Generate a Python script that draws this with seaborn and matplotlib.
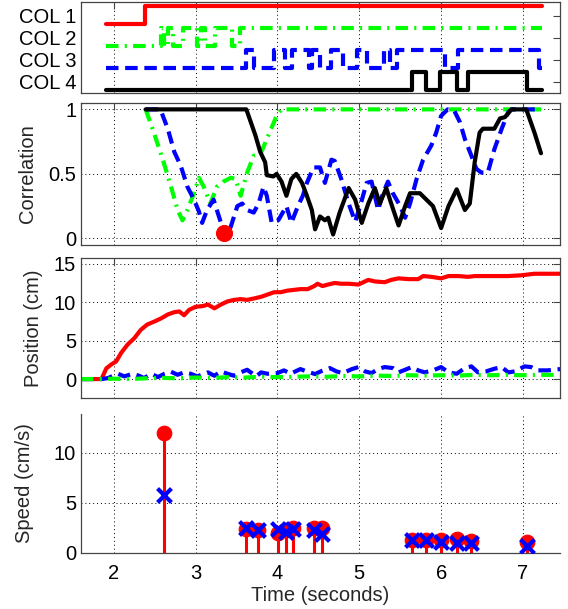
import numpy as np
import matplotlib
matplotlib.use("Agg")
import matplotlib.pyplot as plt
import seaborn as sns

# ---- channel states (top panel) ----
col_labels = ["COL 1", "COL 2", "COL 3", "COL 4"]
col1_t = [1.90, 2.38, 7.23]
col1_s = [0, 1, 1]
col2_t = [1.90, 2.58, 2.62, 2.66, 2.72, 2.85, 3.02, 3.07, 3.12, 3.24, 3.44, 3.54, 7.23]
col2_s = [0, 1, 0, 1, 0, 1, 0, 1, 0, 1, 0, 1, 1]
col3_t = [1.90, 3.62, 3.71, 3.96, 4.09, 4.18, 4.38, 4.42, 4.52, 4.66, 4.80, 4.97,
          5.10, 5.30, 5.38, 5.46, 6.05, 6.20, 7.20, 7.23]
col3_s = [0, 1, 0, 1, 0, 1, 0, 1, 0, 1, 0, 1, 0, 1, 0, 1, 0, 1, 0, 0]
col4_t = [1.90, 5.64, 5.81, 5.99, 6.19, 6.33, 7.05, 7.23]
col4_s = [0, 1, 0, 1, 0, 1, 0, 0]

# ---- correlation ----
corr_black_t = [2.39, 3.62, 3.73, 3.79, 3.85, 3.87, 3.95, 3.99, 4.05, 4.11,
                4.17, 4.23, 4.30, 4.36, 4.42, 4.46, 4.52, 4.58, 4.62, 4.68,
                4.76, 4.87, 4.95, 5.03, 5.11, 5.19, 5.25, 5.33, 5.39, 5.48,
                5.56, 5.62, 5.74, 5.82, 5.90, 6.00, 6.09, 6.19, 6.29, 6.35,
                6.41, 6.47, 6.51, 6.65, 6.72, 6.78, 6.86, 7.04, 7.14, 7.22]
corr_black = [1.0, 1.0, 0.80, 0.67, 0.59, 0.49, 0.48, 0.50, 0.44, 0.33,
              0.46, 0.50, 0.43, 0.33, 0.22, 0.07, 0.17, 0.14, 0.16, 0.03,
              0.20, 0.39, 0.30, 0.12, 0.27, 0.39, 0.27, 0.39, 0.27, 0.10,
              0.25, 0.35, 0.35, 0.30, 0.25, 0.08, 0.25, 0.38, 0.22, 0.27,
              0.59, 0.82, 0.85, 0.85, 0.93, 0.94, 1.0, 1.0, 0.82, 0.66]
corr_green_t = [2.39, 2.49, 2.60, 2.70, 2.78, 2.84, 2.90, 2.98, 3.04, 3.10, 3.18, 3.26,
                3.34, 3.43, 3.49, 3.55, 3.63, 3.71, 3.79, 3.89, 3.99, 4.05, 7.22]
corr_green = [1.0, 0.82, 0.61, 0.40, 0.22, 0.14, 0.22, 0.35, 0.47, 0.40, 0.27, 0.40,
              0.44, 0.47, 0.46, 0.33, 0.51, 0.64, 0.65, 0.80, 0.95, 1.0, 1.0]
corr_blue_t = [2.39, 2.57, 2.66, 2.74, 2.82, 2.90, 2.98, 3.04, 3.08, 3.14,
               3.22, 3.30, 3.36, 3.43, 3.51, 3.57, 3.63, 3.71, 3.77, 3.83,
               3.87, 3.93, 4.01, 4.11, 4.17, 4.25, 4.31, 4.36, 4.44, 4.52,
               4.58, 4.66, 4.70, 4.78, 4.87, 4.95, 5.01, 5.09, 5.15, 5.23,
               5.29, 5.35, 5.41, 5.50, 5.56, 5.62, 5.70, 5.78, 5.88, 5.94,
               6.00, 6.08, 6.16, 6.23, 6.29, 6.37, 6.43, 6.49, 6.57, 6.65,
               6.74, 6.82, 6.86, 7.22]
corr_blue = [1.0, 1.0, 0.85, 0.67, 0.56, 0.40, 0.30, 0.21, 0.12, 0.22,
             0.30, 0.14, 0.01, 0.09, 0.25, 0.27, 0.22, 0.20, 0.27, 0.40,
             0.33, 0.12, 0.14, 0.25, 0.12, 0.25, 0.33, 0.43, 0.55, 0.55,
             0.43, 0.61, 0.60, 0.46, 0.27, 0.13, 0.25, 0.43, 0.44, 0.22,
             0.35, 0.44, 0.35, 0.25, 0.16, 0.27, 0.46, 0.61, 0.72, 0.82,
             0.95, 1.0, 0.99, 0.90, 0.77, 0.64, 0.54, 0.51, 0.51, 0.69,
             0.85, 0.98, 1.0, 1.0]
corr_min_t = [3.35]
corr_min = [0.04]

# ---- position ----
pos_red_t = [1.60, 1.85, 1.91, 1.97, 2.03, 2.09, 2.17, 2.25, 2.33, 2.41,
             2.50, 2.58, 2.66, 2.74, 2.80, 2.86, 2.92, 3.00, 3.09, 3.15,
             3.23, 3.31, 3.39, 3.47, 3.55, 3.63, 3.72, 3.80, 3.88, 3.96,
             4.04, 4.12, 4.20, 4.28, 4.37, 4.45, 4.49, 4.55, 4.62, 4.70,
             4.78, 4.87, 4.99, 5.05, 5.11, 5.19, 5.31, 5.39, 5.48, 5.60,
             5.72, 5.78, 5.88, 6.00, 6.09, 6.21, 6.33, 6.41, 6.53, 6.65,
             6.82, 6.98, 7.14, 7.30, 7.46]
pos_red = [0, 0, 1.4, 1.9, 2.3, 3.4, 4.5, 5.3, 6.4, 7.1,
           7.5, 7.9, 8.4, 8.7, 8.8, 8.3, 9.0, 9.4, 9.5, 9.7,
           9.2, 9.7, 10.1, 10.3, 10.4, 10.3, 10.5, 10.7, 11.0, 11.3,
           11.3, 11.5, 11.6, 11.7, 11.7, 12.1, 12.4, 12.1, 12.3, 12.5,
           12.4, 12.4, 12.3, 12.6, 12.9, 12.7, 12.6, 12.9, 13.1, 13.0,
           13.0, 13.4, 13.3, 13.1, 13.4, 13.4, 13.3, 13.4, 13.4, 13.4,
           13.4, 13.5, 13.7, 13.7, 13.7]
pos_blue_t = [1.60, 1.85, 1.93, 2.05, 2.13, 2.23, 2.31, 2.37, 2.46, 2.54,
              2.62, 2.70, 2.78, 2.86, 2.94, 3.02, 3.15, 3.23, 3.31, 3.39,
              3.47, 3.55, 3.63, 3.74, 3.80, 3.88, 4.00, 4.08, 4.16, 4.28,
              4.37, 4.46, 4.54, 4.64, 4.72, 4.80, 4.91, 4.99, 5.07, 5.15,
              5.23, 5.31, 5.41, 5.48, 5.56, 5.64, 5.72, 5.80, 5.92, 6.00,
              6.09, 6.19, 6.29, 6.37, 6.45, 6.55, 6.65, 6.74, 6.82, 6.90,
              7.02, 7.10, 7.18, 7.30, 7.46]
pos_blue = [0, 0, 0.13, 0.69, 0.35, 0.69, 0.43, 0.13, 0.69, 0.26,
            0.69, 0.95, 0.56, 0.87, 0.69, 0.35, 0.87, 0.43, 1.00, 0.69,
            0.43, 0.87, 1.21, 0.35, 0.87, 0.69, 0.78, 1.13, 0.69, 1.30,
            0.95, 0.65, 1.05, 1.43, 1.00, 0.78, 1.30, 1.56, 1.00, 0.78,
            1.30, 1.56, 1.43, 0.87, 1.21, 1.56, 1.13, 0.87, 1.21, 1.56,
            0.87, 0.69, 1.43, 1.65, 0.87, 1.00, 1.34, 1.56, 0.87, 1.00,
            1.65, 1.56, 1.13, 1.13, 1.30]
pos_green_t = [1.60, 1.85, 2.0, 2.2, 2.4, 2.6, 2.8, 3.0, 3.2, 3.4, 3.6, 3.8, 4.0, 4.2, 4.4,
               4.6, 4.8, 5.0, 5.2, 5.4, 5.6, 5.8, 6.0, 6.2, 6.4, 6.6, 6.8, 7.0, 7.2, 7.46]
pos_green = [0, 0, 0.05, 0.0, 0.1, 0.15, 0.1, 0.2, 0.15, 0.25, 0.2, 0.3, 0.25, 0.3, 0.35,
             0.3, 0.4, 0.35, 0.45, 0.4, 0.5, 0.45, 0.5, 0.45, 0.55, 0.5, 0.55, 0.5, 0.55, 0.55]

# ---- speed ----
speed_t = [2.61, 3.61, 3.76, 4.01, 4.11, 4.19, 4.45, 4.54, 5.64, 5.81, 6.00, 6.19, 6.36, 7.05]
speed_red = [12.0, 2.4, 2.3, 2.0, 2.3, 2.5, 2.5, 2.5, 1.3, 1.3, 1.3, 1.4, 1.2, 1.1]
speed_blue = [5.8, 2.45, 2.3, 2.4, 2.1, 2.35, 2.25, 1.85, 1.3, 1.3, 1.1, 1.0, 0.95, 0.65]

RED, GREEN, BLUE, BLACK = "#ff0000", "#00ff00", "#0000ff", "#000000"
DASH = (0, (3, 1.6))
DASHDOT = (0, (3, 1.5, 0.5, 1.5))
LW = 3

sns.set_style("white")
plt.rcParams["font.family"] = ["Liberation Sans", "DejaVu Sans"]
plt.rcParams["font.size"] = 14.5

fig = plt.figure(figsize=(5.68, 6.09), dpi=100)
L, W = 0.1426, 0.843
ax1 = fig.add_axes([L, 0.848, W, 0.148])
ax2 = fig.add_axes([L, 0.598, W, 0.233])
ax3 = fig.add_axes([L, 0.346, W, 0.231])
ax4 = fig.add_axes([L, 0.092, W, 0.229])

XLIM = (1.6, 7.45)
grid_kw = dict(color="k", linestyle=(0, (1, 3)), linewidth=0.7)

# top panel: binary channels
chans = [(col1_t, col1_s, RED, "-"), (col2_t, col2_s, GREEN, DASHDOT),
         (col3_t, col3_s, BLUE, DASH), (col4_t, col4_s, BLACK, "-")]
for k, (t, s, c, ls) in enumerate(chans, start=1):
    y = [k + 0.4 - 0.85 * v for v in s]
    sns.lineplot(x=t, y=y, ax=ax1, color=c, linewidth=LW, linestyle=ls,
                 drawstyle="steps-post", sort=False, estimator=None)
ax1.set_ylim(4.5, 0.4)
ax1.set_yticks([1, 2, 3, 4])
ax1.set_yticklabels(col_labels)
ax1.xaxis.grid(True, **grid_kw)

# correlation
sns.lineplot(x=corr_green_t, y=corr_green, ax=ax2, color=GREEN, linewidth=LW,
             linestyle=DASHDOT, sort=False, estimator=None)
sns.lineplot(x=corr_blue_t, y=corr_blue, ax=ax2, color=BLUE, linewidth=LW,
             linestyle=DASH, sort=False, estimator=None)
sns.lineplot(x=corr_black_t, y=corr_black, ax=ax2, color=BLACK, linewidth=LW,
             sort=False, estimator=None)
sns.scatterplot(x=corr_min_t, y=corr_min, ax=ax2, color=RED, s=130,
                edgecolor=RED, zorder=5)
ax2.set_ylim(-0.05, 1.05)
ax2.set_yticks([0, 0.5, 1])
ax2.set_yticklabels(["0", "0.5", "1"])
ax2.set_ylabel("Correlation", labelpad=8)
ax2.grid(True, **grid_kw)

# position
sns.lineplot(x=pos_red_t, y=pos_red, ax=ax3, color=RED, linewidth=LW,
             sort=False, estimator=None)
sns.lineplot(x=pos_blue_t, y=pos_blue, ax=ax3, color=BLUE, linewidth=LW,
             linestyle=DASH, sort=False, estimator=None)
sns.lineplot(x=pos_green_t, y=pos_green, ax=ax3, color=GREEN, linewidth=LW,
             linestyle=DASHDOT, sort=False, estimator=None)
ax3.set_ylim(-2.5, 15.8)
ax3.set_yticks([0, 5, 10, 15])
ax3.set_ylabel("Position (cm)", labelpad=8)
ax3.grid(True, **grid_kw)

# speed
ax4.vlines(speed_t, 0, speed_red, color=RED, linewidth=2.2)
sns.scatterplot(x=speed_t, y=speed_red, ax=ax4, color=RED, s=110,
                edgecolor=RED, zorder=4)
sns.scatterplot(x=speed_t, y=speed_blue, ax=ax4, color=BLUE, marker="x",
                s=100, linewidth=3, zorder=5)
ax4.set_ylim(0, 13.9)
ax4.set_yticks([0, 5, 10])
ax4.set_ylabel("Speed (cm/s)", labelpad=14)
ax4.set_xlabel("Time (seconds)", labelpad=2)
ax4.grid(True, **grid_kw)
ax4.spines["top"].set_visible(False)
ax4.spines["right"].set_visible(False)

for ax in (ax1, ax2, ax3, ax4):
    ax.set_xlim(*XLIM)
    ax.set_xticks([2, 3, 4, 5, 6, 7])
    for sp in ax.spines.values():
        sp.set_color("#444444")
        sp.set_linewidth(0.9)
    boxed = ax is not ax4
    ax.tick_params(direction="in", length=5, width=0.8, colors="#444444",
                   labelcolor="k", top=boxed, right=boxed, labelsize=14.5)
    ax.tick_params(axis="x", pad=8)
    if ax is not ax4:
        ax.set_xticklabels([])
        ax.set_xlabel("")
    ax.set_axisbelow(True)

fig.align_ylabels([ax2, ax3, ax4])
fig.savefig("out.png", dpi=100)
